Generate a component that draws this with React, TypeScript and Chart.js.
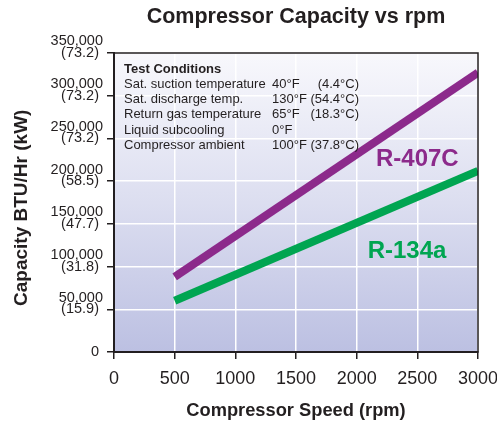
import React, { useEffect, useRef } from "react";
import { Chart, registerables } from "chart.js";

Chart.register(...registerables);

// ---- data ----
const rpm = [500, 3000];
const r407c = [88000, 327000];
const r134a = [60000, 212000];

const xTickLabels = ["0", "500", "1000", "1500", "2000", "2500", "3000"];
const yTicksBTU = ["0", "50,000", "100,000", "150,000", "200,000", "250,000", "300,000", "350,000"];
const yTicksKW = ["", "(15.9)", "(31.8)", "(47.7)", "(58.5)", "(73.2)", "(73.2)", "(73.2)"];

const conditionNames = [
  "Sat. suction temperature",
  "Sat. discharge temp.",
  "Return gas temperature",
  "Liquid subcooling",
  "Compressor ambient",
];
const conditionF = ["40°F", "130°F", "65°F", "0°F", "100°F"];
const conditionC = ["(4.4°C)", "(54.4°C)", "(18.3°C)", "", "(37.8°C)"];

// series label anchors (data units)
const labelR407C = { x: 2500, y: 225000, text: "R-407C" };
const labelR134a = { x: 2415, y: 118000, text: "R-134a" };

const FONT = "'Liberation Sans', Arial, Helvetica, sans-serif";
const DARK = "#231f20";
const PURPLE = "#8c2a8b";
const GREEN = "#00a551";

const decorPlugin = {
  id: "decor",
  beforeDraw(chart: any) {
    const { ctx, chartArea: a } = chart;
    const g = ctx.createLinearGradient(0, a.top, 0, a.bottom);
    g.addColorStop(0, "#f8f8fc");
    g.addColorStop(0.5, "#dcdef0");
    g.addColorStop(1, "#bcc0e2");
    ctx.save();
    ctx.fillStyle = g;
    ctx.fillRect(a.left, a.top, a.right - a.left, a.bottom - a.top);
    ctx.restore();
  },
  afterDraw(chart: any) {
    const { ctx, chartArea: a, scales } = chart;
    ctx.save();
    // frame
    ctx.strokeStyle = DARK;
    ctx.lineWidth = 1.5;
    ctx.strokeRect(a.left, a.top, a.right - a.left, a.bottom - a.top);

    // test conditions block
    ctx.fillStyle = DARK;
    ctx.textBaseline = "middle";
    ctx.textAlign = "left";
    ctx.font = `bold 13px ${FONT}`;
    const x0 = a.left + 10;
    ctx.fillText("Test Conditions", x0, a.top + 16);
    ctx.font = `13px ${FONT}`;
    conditionNames.forEach((n, i) => {
      const y = a.top + 31 + i * 15.4;
      ctx.textAlign = "left";
      ctx.fillText(n, x0, y);
      ctx.fillText(conditionF[i], a.left + 158, y);
      ctx.textAlign = "right";
      if (conditionC[i]) ctx.fillText(conditionC[i], a.left + 245, y);
    });

    // series labels
    ctx.textAlign = "center";
    ctx.font = `bold 24px ${FONT}`;
    ctx.fillStyle = PURPLE;
    ctx.fillText(labelR407C.text, scales.x.getPixelForValue(labelR407C.x), scales.y.getPixelForValue(labelR407C.y));
    ctx.fillStyle = GREEN;
    ctx.fillText(labelR134a.text, scales.x.getPixelForValue(labelR134a.x), scales.y.getPixelForValue(labelR134a.y));
    ctx.restore();
  },
};

export default function App() {
  const ref = useRef<HTMLCanvasElement>(null);
  useEffect(() => {
    document.body.style.margin = "0";
    const chart = new Chart(ref.current as HTMLCanvasElement, {
      type: "line",
      data: {
        datasets: [
          {
            label: "R-407C",
            data: rpm.map((x, i) => ({ x, y: r407c[i] })),
            borderColor: PURPLE,
            borderWidth: 8,
            pointRadius: 0,
            borderCapStyle: "butt",
            tension: 0,
          },
          {
            label: "R-134a",
            data: rpm.map((x, i) => ({ x, y: r134a[i] })),
            borderColor: GREEN,
            borderWidth: 8,
            pointRadius: 0,
            borderCapStyle: "butt",
            tension: 0,
          },
        ],
      },
      options: {
        animation: false,
        responsive: false,
        devicePixelRatio: 1,
        layout: { padding: { left: 0, right: 19, top: 0, bottom: 0 } },
        plugins: {
          legend: { display: false },
          tooltip: { enabled: false },
          title: {
            display: true,
            text: "Compressor Capacity vs rpm",
            fullSize: false,
            color: DARK,
            font: { size: 21.5, weight: "bold", family: FONT, lineHeight: 1.2 },
            padding: { top: 4, bottom: 23.2 },
          },
        },
        scales: {
          x: {
            type: "linear",
            min: 0,
            max: 3000,
            ticks: {
              stepSize: 500,
              color: DARK,
              font: { size: 18, family: FONT, lineHeight: 1.2 },
              padding: 9,
              maxRotation: 0,
              callback: (v: any) => xTickLabels[Math.round(Number(v) / 500)],
            },
            grid: { color: "#ffffff", lineWidth: 1.5, tickColor: DARK, tickLength: 7, tickWidth: 1.5 },
            border: { color: DARK, width: 2 },
            title: {
              display: true,
              text: "Compressor Speed (rpm)",
              color: DARK,
              font: { size: 18.3, weight: "bold", family: FONT, lineHeight: 1.2 },
              padding: { top: 0, bottom: 1.2 },
            },
            afterFit: (s: any) => {
              s.height = 71;
              s.paddingLeft = 0;
              s.paddingRight = 0;
            },
          },
          y: {
            min: 0,
            max: 350000,
            ticks: {
              stepSize: 50000,
              color: DARK,
              padding: 4,
              font: { size: 14.5, family: FONT, lineHeight: 0.8 },
              callback: (v: any) => {
                const i = Math.round(Number(v) / 50000);
                if (i === 0) return "0 ";
                return [yTicksBTU[i], yTicksKW[i] + " ", ""];
              },
            },
            grid: { color: "#ffffff", lineWidth: 1.5, tickColor: DARK, tickLength: 7, tickWidth: 1.5 },
            border: { color: DARK, width: 2 },
            title: {
              display: true,
              text: "Capacity BTU/Hr (kW)  ",
              color: DARK,
              font: { size: 19, weight: "bold", family: FONT, lineHeight: 1.2 },
              padding: { top: 10.5, bottom: 0 },
            },
            afterFit: (s: any) => {
              s.width = 114;
              s.paddingTop = 0;
              s.paddingBottom = 0;
            },
          },
        },
      } as any,
      plugins: [decorPlugin],
    });
    return () => chart.destroy();
  }, []);
  return (
    <div style={{ width: 497, height: 423 }}>
      <canvas ref={ref} width={497} height={423} style={{ width: 497, height: 423, display: "block" }} />
    </div>
  );
}
